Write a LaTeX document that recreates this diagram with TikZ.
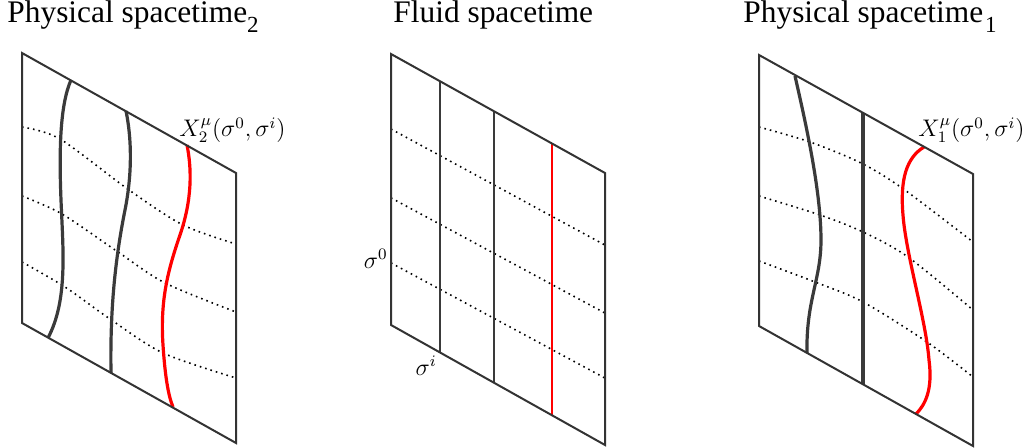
\documentclass[tikz,border=0pt]{standalone}
\usepackage[no-math]{fontspec}
\setmainfont{Liberation Serif}
\usepackage{amsmath}
\usepackage{xcolor}
\definecolor{stframe}{RGB}{51,51,51}
\definecolor{stline}{RGB}{58,58,58}
\definecolor{stred}{RGB}{255,0,0}
\usepackage{tikz}
\usetikzlibrary{calc}

\begin{document}
\begin{tikzpicture}[x=0.5pt, y=-0.5pt,
  frame/.style={draw=stframe, line width=1pt},
  worldline/.style={draw=stline, line width=1.6pt},
  redline/.style={draw=stred, line width=1.6pt},
  slice/.style={draw=black, dotted, line width=0.8pt},
  paneltitle/.style={anchor=base west, inner sep=0pt, font=\fontsize{15.7}{18}\selectfont},
  mathlabel/.style={font=\fontsize{12}{14}\selectfont}]
  \useasboundingbox (0,0) rectangle (1029,448);

  % corners of the three sheets
  \coordinate (ltl) at (22,53);   \coordinate (ltr) at (236,173);
  \coordinate (lbr) at (236,443); \coordinate (lbl) at (22,323);
  \coordinate (mtl) at (391,54);  \coordinate (mtr) at (605,173);
  \coordinate (mbr) at (605,445); \coordinate (mbl) at (391,325);
  \coordinate (rtl) at (759,55);  \coordinate (rtr) at (973,174);
  \coordinate (rbr) at (973,446); \coordinate (rbl) at (759,326);

  \node[paneltitle] (tphys2) at (7,23) {Physical spacetime\raisebox{-5pt}{\fontsize{11.5}{12}\selectfont 2}};
  \node[paneltitle] (tfluid) at (393,23) {Fluid spacetime};
  \node[paneltitle] (tphys1) at (743,23) {Physical spacetime\kern1pt\raisebox{-5pt}{\fontsize{11.5}{12}\selectfont 1}};

  % physical spacetime 2
  \draw[slice] plot[smooth] coordinates {(22,127) (60,139) (129,190) (183,225) (236,244)};
  \draw[slice] plot[smooth] coordinates {(22,196) (62,214) (118,252) (165,283) (236,312)};
  \draw[slice] plot[smooth] coordinates {(22,262) (65,287) (110,319) (163,353) (236,378)};
  \draw[worldline] (71,80) .. controls (60,105) and (59,150) .. (61,200)
    .. controls (63,250) and (68,300) .. (48,338);
  \draw[worldline] (126,111) .. controls (131,135) and (133,170) .. (125,210)
    .. controls (115,260) and (110,310) .. (111,373);
  \draw[redline] (187,145) .. controls (192,170) and (192,200) .. (180,235)
    .. controls (168,270) and (160,300) .. (163,345)
    .. controls (165,375) and (168,395) .. (173,407);
  \draw[frame] (ltl) -- (ltr) -- (lbr) -- (lbl) -- cycle;
  \node[mathlabel, anchor=base west, inner sep=0pt] (xtwo) at (179,137) {$X_2^\mu(\sigma^0,\sigma^i)$};

  % fluid spacetime
  \draw[slice] ($(mtl)!0.277!(mbl)$) -- ($(mtr)!0.265!(mbr)$);
  \draw[slice] ($(mtl)!0.531!(mbl)$) -- ($(mtr)!0.515!(mbr)$);
  \draw[slice] ($(mtl)!0.771!(mbl)$) coordinate (szero) -- ($(mtr)!0.754!(mbr)$);
  \draw[worldline, line width=1.3pt] ($(mtl)!0.229!(mtr)$) -- ($(mbl)!0.229!(mbr)$) coordinate (sione);
  \draw[worldline, line width=1.3pt] ($(mtl)!0.481!(mtr)$) -- ($(mbl)!0.481!(mbr)$);
  \draw[redline, line width=1.3pt] ($(mtl)!0.752!(mtr)$) -- ($(mbl)!0.752!(mbr)$);
  \draw[frame] (mtl) -- (mtr) -- (mbr) -- (mbl) -- cycle;
  \node[mathlabel, anchor=east, inner sep=1.5pt] (szlabel) at ($(szero)+(0,-4)$) {$\sigma^0$};
  \node[mathlabel, anchor=north east, inner sep=1.5pt] (silabel) at (sione) {$\sigma^i$};

  % physical spacetime 1
  \draw[slice] plot[smooth] coordinates {(759,127) (810,142) (861,163) (902,188) (973,242)};
  \draw[slice] plot[smooth] coordinates {(759,196) (820,215) (863,232) (908,257) (973,310)};
  \draw[slice] plot[smooth] coordinates {(759,261) (815,282) (863,302) (927,342) (973,377)};
  \draw[worldline] (795,76) .. controls (805,120) and (821,190) .. (821,240)
    .. controls (821,280) and (806,300) .. (807,353);
  \draw[worldline] ($(rtl)!0.486!(rtr)$) -- ($(rbl)!0.486!(rbr)$);
  \draw[redline] (924,147) .. controls (906,158) and (900,180) .. (903,215)
    .. controls (906,255) and (926,320) .. (929,360)
    .. controls (933,390) and (925,405) .. (916,414);
  \draw[frame] (rtl) -- (rtr) -- (rbr) -- (rbl) -- cycle;
  \node[mathlabel, anchor=base west, inner sep=0pt] (xone) at (918,137) {$X_1^\mu(\sigma^0,\sigma^i)$};
\end{tikzpicture}
\end{document}
